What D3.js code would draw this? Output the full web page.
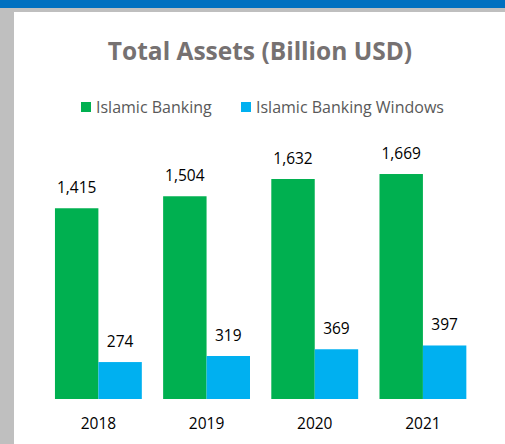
<!DOCTYPE html>
<html>
<head>
<meta charset="utf-8">
<script src="https://cdn.jsdelivr.net/npm/d3@7"></script>
<style>
  html, body { margin: 0; padding: 0; background: #fff; }
  text { font-family: 'Open Sans', sans-serif; }
</style>
</head>
<body>
<div id="chart"></div>
<script>
const years = ['2018', '2019', '2020', '2021']
const seriesNames = ['Islamic Banking', 'Islamic Banking Windows']
const islamicBanking = [1415, 1504, 1632, 1669]
const bankingWindows = [274, 319, 369, 397]
const colors = ['#00B050', '#00B0F0']

const width = 505
const height = 444

const svg = d3.select('#chart').append('svg')
  .attr('width', width)
  .attr('height', height)

// frame: blue strip on top, grey border left/top
svg.append('rect').attr('x', 0).attr('y', 0).attr('width', width).attr('height', height).attr('fill', '#BFBFBF')
svg.append('rect').attr('x', 14).attr('y', 12).attr('width', width - 14).attr('height', height - 12).attr('fill', '#fff')
svg.append('rect').attr('x', 0).attr('y', 0).attr('width', width).attr('height', 8).attr('fill', '#0070C0')

svg.append('text')
  .attr('x', 260)
  .attr('y', 60)
  .attr('text-anchor', 'middle')
  .attr('font-size', 24.5)
  .attr('font-weight', 'bold')
  .attr('fill', '#767171')
  .text('Total Assets (Billion USD)')

// legend
const legendX = [81, 241]
const legend = svg.append('g').selectAll('g')
  .data(seriesNames)
  .join('g')
  .attr('transform', (d, i) => `translate(${legendX[i]}, 102)`)
legend.append('rect')
  .attr('width', 10).attr('height', 10)
  .attr('fill', (d, i) => colors[i])
legend.append('text')
  .attr('x', 15).attr('y', 10.5)
  .attr('font-size', 16)
  .attr('fill', '#595959')
  .text(d => d)

const x = d3.scaleBand()
  .domain(years)
  .range([44.3, 477])
  .paddingInner(0.197)
  .paddingOuter(0.0985)

const xs = d3.scaleBand()
  .domain([0, 1])
  .range([0, x.bandwidth()])

const y = d3.scaleLinear()
  .domain([0, 1800])
  .range([399, 399 - 0.1348 * 1800])

const rows = years.map((yr, i) => ({ year: yr, values: [islamicBanking[i], bankingWindows[i]] }))
const fmt = d3.format(',')

const group = svg.append('g').selectAll('g')
  .data(rows)
  .join('g')
  .attr('transform', d => `translate(${x(d.year)}, 0)`)

group.selectAll('rect')
  .data(d => d.values)
  .join('rect')
  .attr('x', (d, i) => xs(i))
  .attr('y', d => y(d))
  .attr('width', xs.bandwidth())
  .attr('height', d => y(0) - y(d))
  .attr('fill', (d, i) => colors[i])

group.selectAll('text')
  .data(d => d.values)
  .join('text')
  .attr('x', (d, i) => xs(i) + xs.bandwidth() / 2)
  .attr('y', d => y(d) - 15)
  .attr('text-anchor', 'middle')
  .attr('font-size', 15.5)
  .attr('fill', '#000')
  .text(d => fmt(d))

const xAxis = svg.append('g')
  .attr('transform', `translate(0, ${y(0)})`)
  .call(d3.axisBottom(x).tickSize(0).tickPadding(19))
xAxis.select('.domain').remove()
xAxis.selectAll('text')
  .attr('font-size', 15.5)
  .attr('font-family', 'Open Sans, sans-serif')
  .attr('fill', '#000')
</script>
</body>
</html>
